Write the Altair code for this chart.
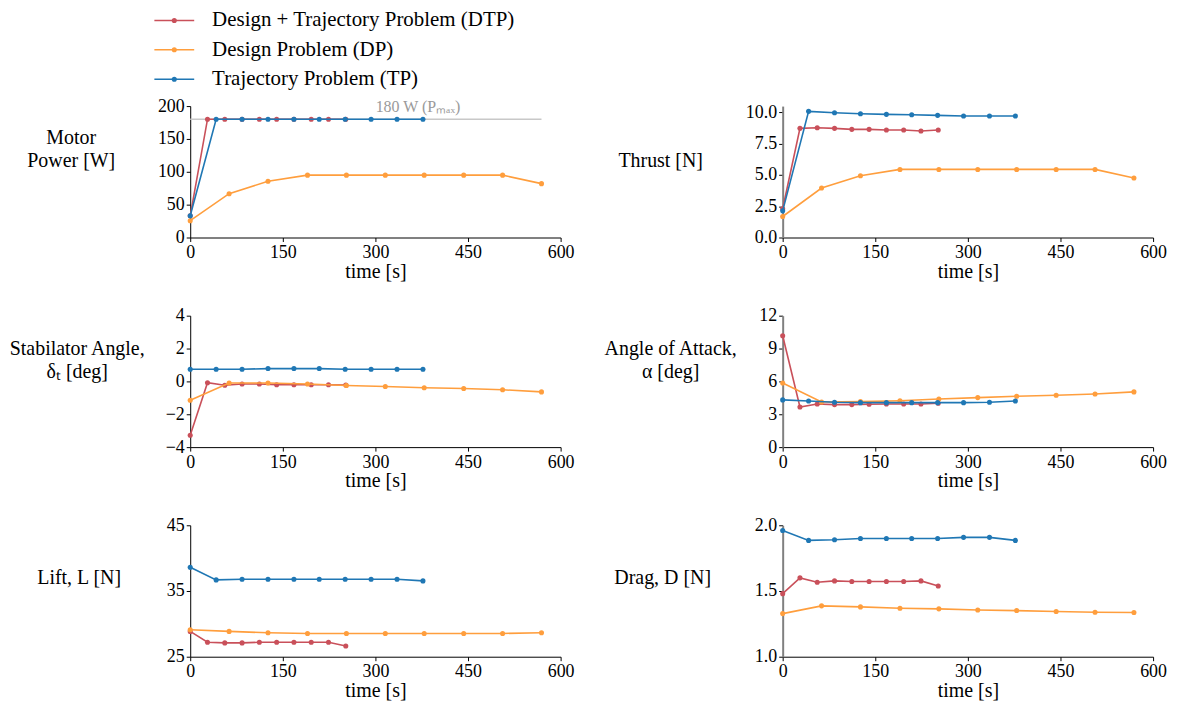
import altair as alt
import pandas as pd

FONT = "Liberation Serif"

SERIES = ["Design + Trajectory Problem (DTP)", "Design Problem (DP)", "Trajectory Problem (TP)"]
COLORS = ["#c9505a", "#ff9e3d", "#1f77b4"]

# time stamps of each solution [s]
T_DTP = [0, 28, 56, 84, 112, 140, 168, 196, 224, 252]
T_DP = [0, 63, 126, 190, 253, 316, 379, 443, 506, 569]
T_TP = [0, 42, 84, 126, 168, 209, 251, 293, 335, 377]

# Motor power [W]
POWER_DTP = [33, 180, 180, 180, 180, 180, 180, 180, 180, 180]
POWER_DP = [25.6, 66.7, 85.6, 94.9, 94.9, 94.9, 94.9, 94.9, 94.9, 82.0]
POWER_TP = [33, 180, 180, 180, 180, 180, 180, 180, 180, 180]

# Thrust [N]
THRUST_DTP = [2.3, 8.72, 8.77, 8.72, 8.64, 8.64, 8.59, 8.59, 8.51, 8.59]
THRUST_DP = [1.68, 3.95, 4.93, 5.44, 5.44, 5.44, 5.44, 5.44, 5.44, 4.75]
THRUST_TP = [2.13, 10.08, 9.97, 9.89, 9.84, 9.81, 9.76, 9.71, 9.71, 9.71]

# Stabilator angle [deg]
STAB_DTP = [-3.28, -0.08, -0.23, -0.16, -0.16, -0.2, -0.2, -0.2, -0.2, -0.22]
STAB_DP = [-1.15, -0.1, -0.1, -0.16, -0.25, -0.31, -0.39, -0.43, -0.51, -0.64]
STAB_TP = [0.74, 0.74, 0.74, 0.78, 0.78, 0.78, 0.74, 0.74, 0.74, 0.74]

# Angle of attack [deg]
AOA_DTP = [10.17, 3.66, 3.94, 3.88, 3.88, 3.91, 3.94, 3.94, 3.94, 4.0]
AOA_DP = [5.86, 4.12, 4.15, 4.24, 4.40, 4.52, 4.64, 4.73, 4.85, 5.04]
AOA_TP = [4.31, 4.21, 4.09, 4.06, 4.06, 4.06, 4.06, 4.06, 4.09, 4.21]

# Lift [N]
LIFT_DTP = [28.85, 27.2, 27.1, 27.1, 27.2, 27.2, 27.2, 27.2, 27.2, 26.64]
LIFT_DP = [29.1, 28.85, 28.64, 28.54, 28.54, 28.54, 28.54, 28.54, 28.54, 28.64]
LIFT_TP = [38.6, 36.69, 36.79, 36.79, 36.79, 36.79, 36.79, 36.79, 36.79, 36.54]

# Drag [N]
DRAG_DTP = [1.48, 1.60, 1.567, 1.577, 1.572, 1.572, 1.572, 1.572, 1.577, 1.538]
DRAG_DP = [1.328, 1.387, 1.379, 1.369, 1.364, 1.356, 1.351, 1.344, 1.338, 1.336]
DRAG_TP = [1.96, 1.885, 1.89, 1.90, 1.90, 1.90, 1.90, 1.908, 1.908, 1.885]

X_TICKS = [0, 150, 300, 450, 600]
PMAX = 180
PMAX_END = 569
PMAX_TEXT_T = 369
PMAX_LABEL = "180 W (Pₘₐₓ)"

W, H = 372, 132
COLOR_SCALE = alt.Scale(domain=SERIES, range=COLORS)


def frame(dtp, dp, tp):
    rows = []
    for s, ts, vs in zip(SERIES, (T_DTP, T_DP, T_TP), (dtp, dp, tp)):
        for t, v in zip(ts, vs):
            rows.append({"s": s, "t": t, "v": v})
    return pd.DataFrame(rows)


def xaxis():
    return alt.Axis(values=X_TICKS, title="time [s]", labelFlush=False)


def panel(vals, domain, ticks, fmt, title, tx, ty, right=False, pmax=False):
    df = frame(*vals)
    xenc = alt.X("t:Q", scale=alt.Scale(domain=[0, 600], nice=False), axis=xaxis())
    yaxis = alt.Axis(values=ticks, format=fmt, title=title, titleAngle=0,
                     titleAlign="center", titleBaseline="middle",
                     titleX=tx, titleY=ty, titleLineHeight=23,
                     domainColor="#808080" if right else "black",
                     domainWidth=2 if right else 1)
    yenc = alt.Y("v:Q", scale=alt.Scale(domain=domain, nice=False, zero=False), axis=yaxis)
    layers = []
    if pmax:
        pm = pd.DataFrame({"t": [0], "t2": [PMAX_END], "v": [PMAX],
                           "tt": [PMAX_TEXT_T], "label": [PMAX_LABEL]})
        layers.append(alt.Chart(pm).mark_rule(color="#c8c8c8", strokeWidth=1.5).encode(
            x=xenc, x2="t2:Q", y=yenc))
        layers.append(alt.Chart(pm).mark_text(dy=-12, font=FONT, fontSize=16, color="#9a9a9a").encode(
            x=alt.X("tt:Q", scale=alt.Scale(domain=[0, 600], nice=False), axis=xaxis()),
            y=yenc, text="label:N"))
    for s in SERIES:
        base = alt.Chart(df).transform_filter(alt.datum.s == s).encode(
            x=xenc, y=yenc,
            color=alt.Color("s:N", scale=COLOR_SCALE, legend=None))
        layers.append(base.mark_line(strokeWidth=1.6))
        layers.append(base.mark_circle(size=26, opacity=1))
    return alt.layer(*layers).properties(width=W, height=H)


p_power = panel((POWER_DTP, POWER_DP, POWER_TP), [0, 200], [0, 50, 100, 150, 200], "d",
                ["Motor", "Power [W]"], -120, 32, pmax=True)
p_thrust = panel((THRUST_DTP, THRUST_DP, THRUST_TP), [0, 10.5], [0, 2.5, 5, 7.5, 10], ".1f",
                 "Thrust [N]", -123, 55, right=True)
p_stab = panel((STAB_DTP, STAB_DP, STAB_TP), [-4, 4], [-4, -2, 0, 2, 4], "d",
               ["Stabilator Angle,", "δₜ [deg]"], -114, 33)
p_aoa = panel((AOA_DTP, AOA_DP, AOA_TP), [0, 12], [0, 3, 6, 9, 12], "d",
              ["Angle of Attack,", "α [deg]"], -113, 33, right=True)
p_lift = panel((LIFT_DTP, LIFT_DP, LIFT_TP), [25, 45], [25, 35, 45], "d",
               "Lift, L [N]", -112, 52)
p_drag = panel((DRAG_DTP, DRAG_DP, DRAG_TP), [1.0, 2.0], [1.0, 1.5, 2.0], ".1f",
               "Drag, D [N]", -121, 52, right=True)

# legend drawn from the series list
leg_df = pd.DataFrame({"s": SERIES, "row": list(range(len(SERIES)))})
ly = alt.Y("row:Q", scale=alt.Scale(domain=[0, len(SERIES) - 1], range=[11, 70]), axis=None)
leg_line = alt.Chart(leg_df).mark_rule(strokeWidth=1.6).encode(
    y=ly, x=alt.value(-36), x2=alt.value(4),
    color=alt.Color("s:N", scale=COLOR_SCALE, legend=None))
leg_pt = alt.Chart(leg_df).mark_circle(size=26, opacity=1).encode(
    y=ly, x=alt.value(-16),
    color=alt.Color("s:N", scale=COLOR_SCALE, legend=None))
leg_txt = alt.Chart(leg_df).mark_text(align="left", baseline="middle", font=FONT,
                                      fontSize=21, color="black").encode(
    y=ly, x=alt.value(22), text="s:N")
legend = alt.layer(leg_line, leg_pt, leg_txt).properties(width=W, height=76)

grid = alt.concat(p_power, p_thrust, p_stab, p_aoa, p_lift, p_drag, columns=2,
                  spacing={"row": 78.5, "column": 223}, bounds="flush")

chart = alt.vconcat(legend, grid, spacing=21, bounds="flush").properties(
    padding={"left": 0, "top": 0, "right": 5, "bottom": 5}
).configure_view(stroke=None).configure_axis(
    labelFont=FONT, titleFont=FONT, labelFontSize=18, titleFontSize=20,
    labelColor="black", titleColor="black", titleFontWeight="normal",
    tickColor="black", tickSize=4, grid=False, labelPadding=2, titlePadding=0,
    domainColor="black"
)

chart.save("out.html", embed_options={"renderer": "svg", "actions": False})
